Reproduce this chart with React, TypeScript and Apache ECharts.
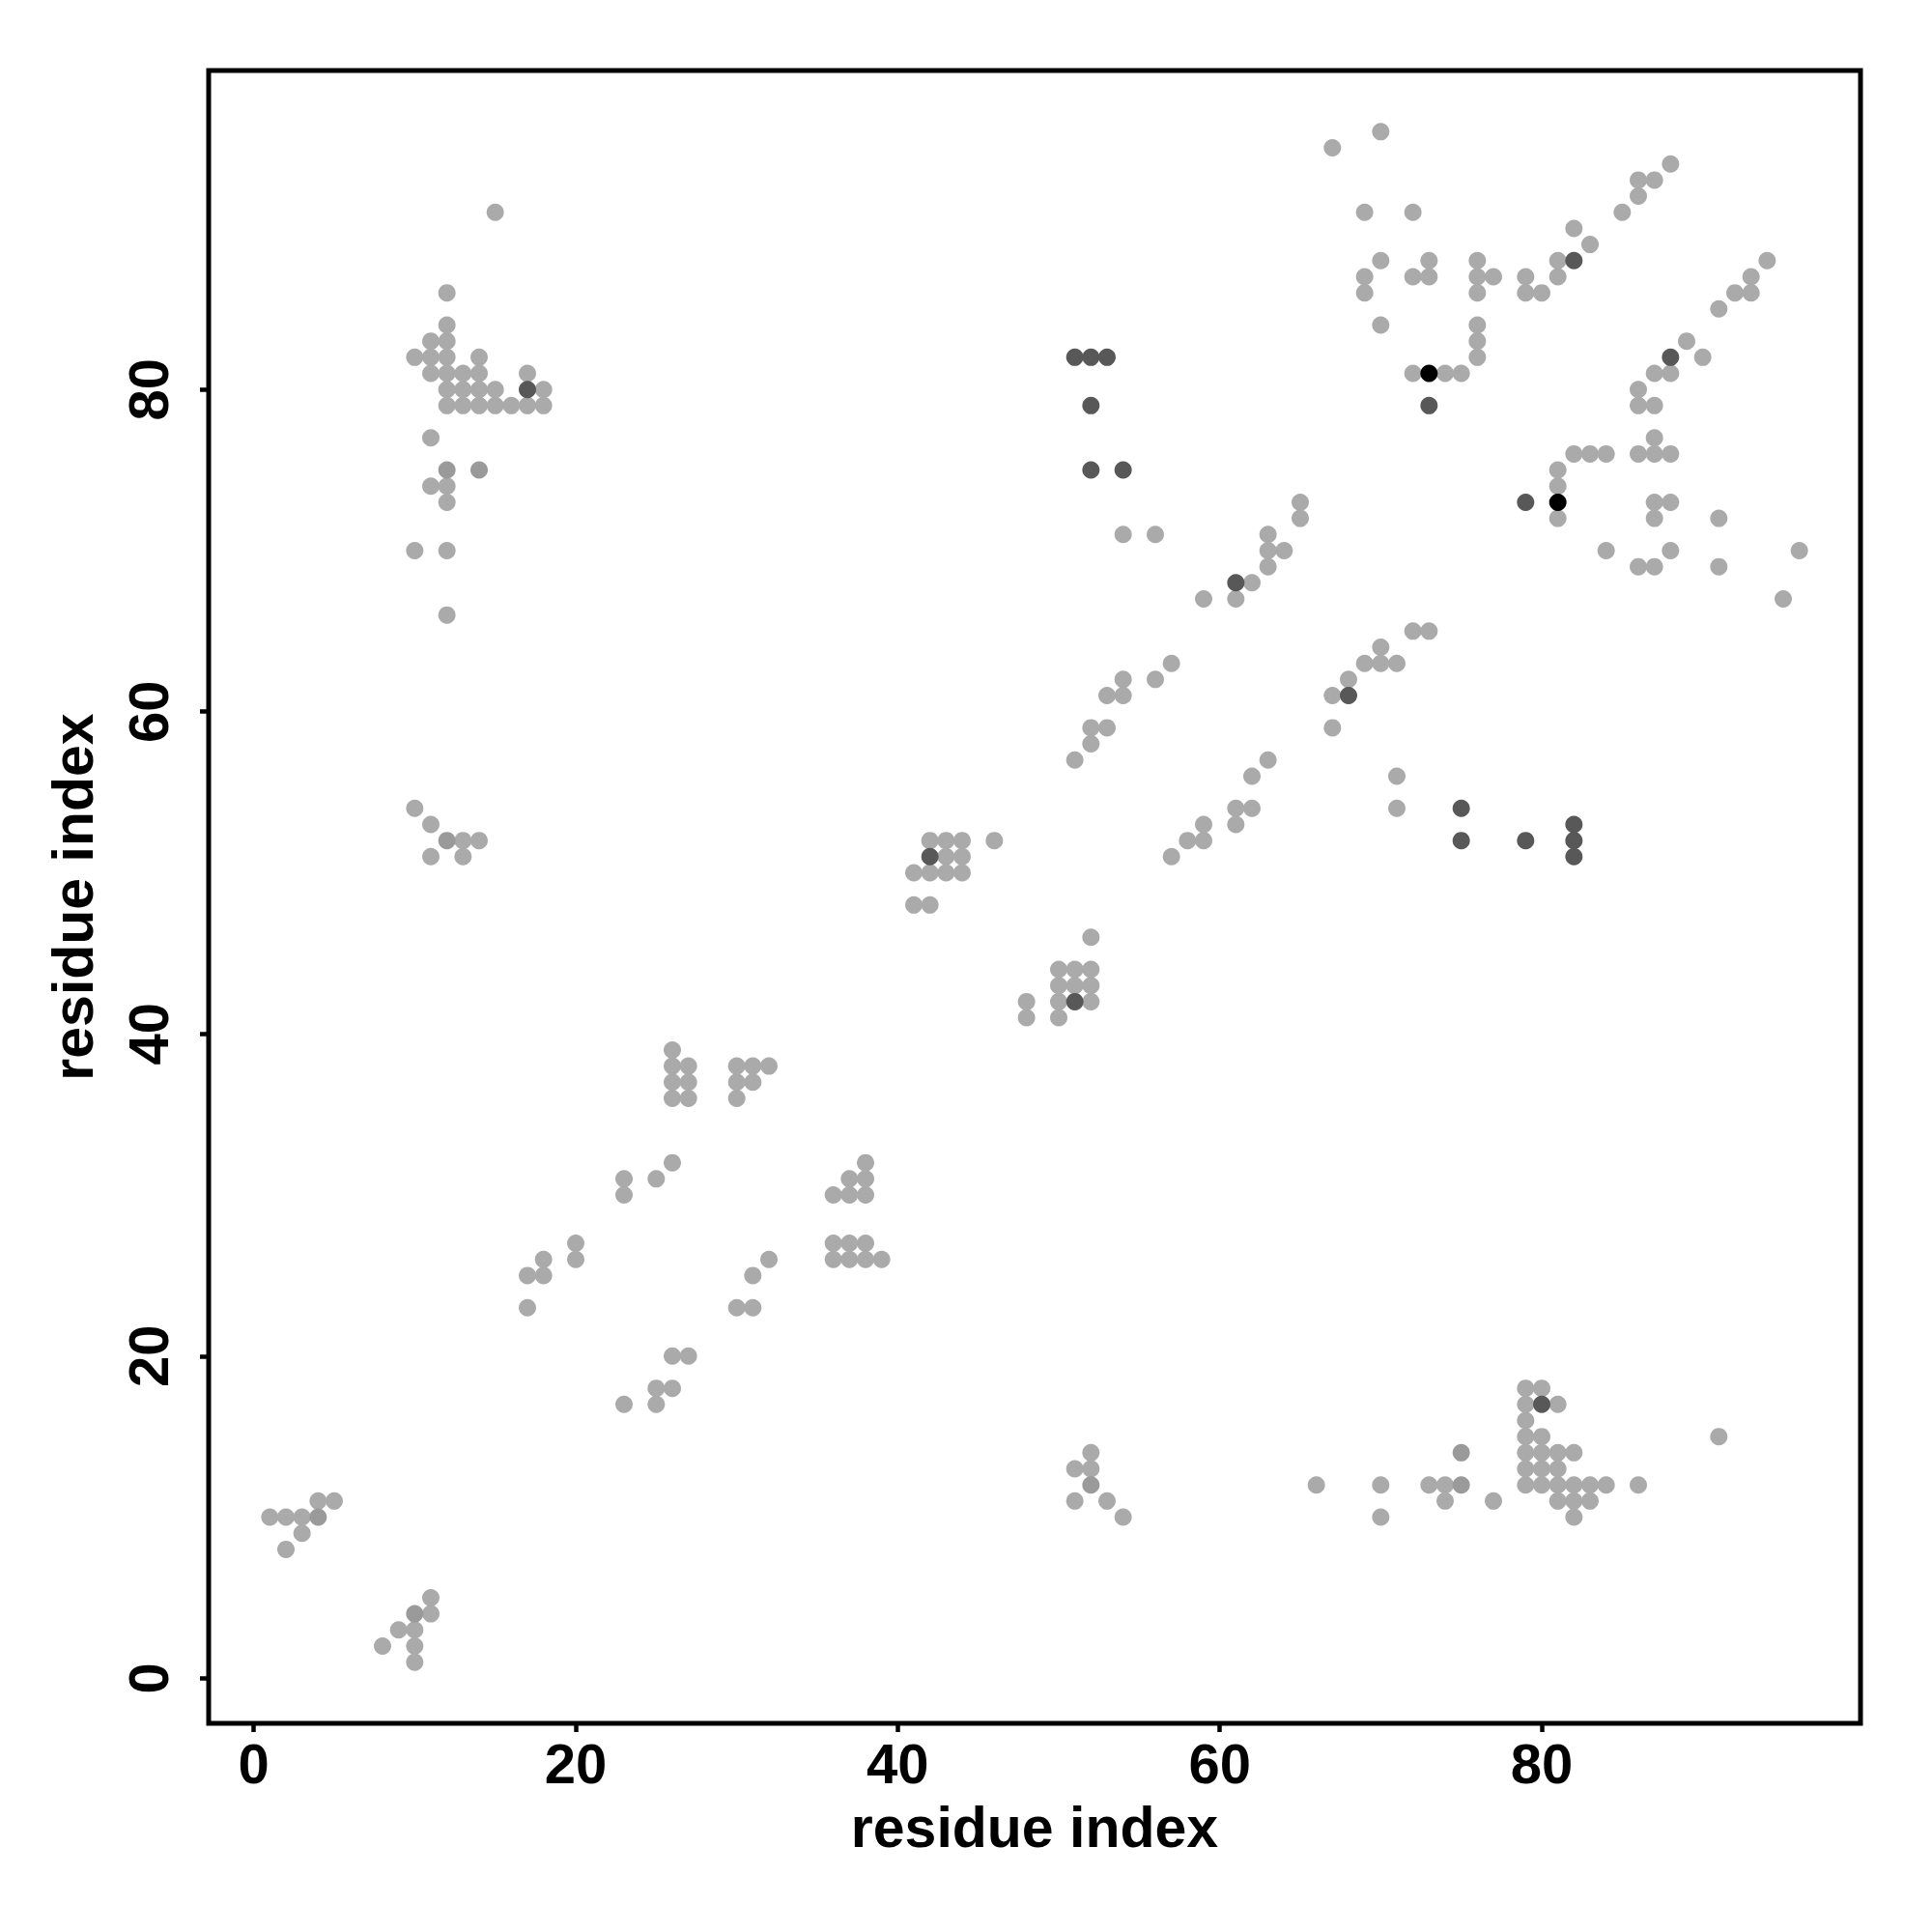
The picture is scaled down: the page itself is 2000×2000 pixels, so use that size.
import React, { useEffect, useRef } from "react";
import * as echarts from "echarts";

// contact pairs [residue i, residue j]
const lightContacts: number[][] = [
  // upper-left cluster
  [15, 91], [12, 86], [12, 84], [11, 83], [12, 83], [10, 82], [11, 82], [12, 82], [14, 82],
  [11, 81], [12, 81], [13, 81], [14, 81], [17, 81], [12, 80], [13, 80], [14, 80], [15, 80], [18, 80],
  [12, 79], [13, 79], [14, 79], [15, 79], [16, 79], [17, 79], [18, 79], [11, 77], [11, 74], [12, 74],
  [12, 73], [10, 70], [12, 70], [12, 66],
  [10, 54], [11, 53], [13, 52], [14, 52], [11, 51], [13, 51],
  // bottom-left
  [1, 10], [2, 10], [3, 10], [4, 11], [5, 11], [3, 9], [2, 8], [11, 5], [11, 4], [9, 3], [10, 3],
  [8, 2], [10, 2], [10, 1],
  // 17-39 region
  [26, 39], [26, 38], [27, 38], [30, 38], [31, 38], [32, 38], [26, 37], [27, 37], [30, 37], [31, 37],
  [26, 36], [27, 36], [30, 36], [26, 32], [38, 32], [23, 31], [25, 31], [37, 31], [38, 31], [23, 30],
  [36, 30], [37, 30], [38, 30], [20, 27], [36, 27], [37, 27], [38, 27], [18, 26], [20, 26], [32, 26],
  [36, 26], [37, 26], [38, 26], [39, 26], [17, 25], [18, 25], [31, 25], [17, 23], [30, 23], [31, 23],
  [26, 20], [27, 20], [25, 18], [26, 18], [23, 17], [25, 17],
  // 41-52 region
  [42, 52], [43, 52], [44, 52], [46, 52], [43, 51], [44, 51], [41, 50], [42, 50], [43, 50], [44, 50],
  [41, 48], [42, 48], [52, 46], [50, 44], [51, 44], [52, 44], [50, 43], [51, 43], [52, 43], [48, 42],
  [50, 42], [52, 42], [48, 41], [50, 41],
  // middle diagonal
  [54, 71], [56, 71], [65, 73], [65, 72], [63, 71], [63, 70], [64, 70], [63, 69], [62, 68], [59, 67],
  [61, 67], [57, 63], [56, 62], [54, 62], [53, 61], [54, 61], [52, 59], [53, 59], [52, 58], [51, 57],
  [63, 57], [62, 56], [57, 51], [58, 52], [59, 52], [59, 53], [61, 53], [61, 54], [62, 54], [67, 59],
  [71, 56], [71, 54],
  // upper-right
  [67, 95], [70, 96], [69, 91], [72, 91], [88, 94], [86, 93], [87, 93], [86, 92], [85, 91], [82, 90],
  [83, 89], [70, 88], [73, 88], [76, 88], [81, 88], [94, 88], [69, 87], [72, 87], [73, 87], [76, 87],
  [77, 87], [79, 87], [81, 87], [93, 87], [69, 86], [76, 86], [79, 86], [80, 86], [92, 86], [93, 86],
  [91, 85], [70, 84], [76, 84], [76, 83], [89, 83], [76, 82], [90, 82], [72, 81], [74, 81], [75, 81],
  [87, 81], [88, 81], [86, 80], [86, 79], [87, 79], [87, 77], [82, 76], [83, 76], [84, 76], [86, 76],
  [87, 76], [88, 76], [81, 75], [81, 74], [87, 73], [88, 73], [81, 72], [87, 72], [91, 72], [84, 70],
  [88, 70], [96, 70], [86, 69], [87, 69], [91, 69], [95, 67], [72, 65], [73, 65], [70, 64], [69, 63],
  [70, 63], [71, 63], [68, 62], [67, 61],
  // bottom-right
  [52, 14], [51, 13], [52, 13], [51, 11], [53, 11], [54, 10], [66, 12], [70, 12], [70, 10], [73, 12],
  [74, 12], [74, 11], [77, 11], [79, 18], [79, 17], [79, 16], [79, 15], [79, 14], [79, 13], [79, 12],
  [80, 18], [80, 15], [80, 14], [80, 13], [80, 12], [81, 17], [81, 14], [81, 13], [81, 12], [81, 11],
  [82, 14], [82, 12], [82, 11], [82, 10], [83, 12], [83, 11], [84, 12], [86, 12], [91, 15],
];

const midContacts: number[][] = [
  [12, 75], [14, 75], [75, 12], [75, 14], [4, 10], [10, 4], [12, 52], [52, 12],
];

const darkContacts: number[][] = [
  [17, 80], [80, 17], [73, 79], [79, 73], [82, 88], [88, 82], [61, 68], [68, 61], [42, 51], [51, 42],
  [52, 75], [54, 75], [75, 52], [75, 54], [52, 79], [79, 52], [51, 82], [52, 82], [53, 82],
  [82, 51], [82, 52], [82, 53],
];

const blackContacts: number[][] = [
  [73, 81], [81, 73],
];

const tickValues = [0, 20, 40, 60, 80];
const axisTitle = "residue index";

const FONT = "'Liberation Sans', Arial, Helvetica, sans-serif";

export default function App() {
  const ref = useRef<HTMLDivElement>(null);

  useEffect(() => {
    if (!ref.current) return;
    const chart = echarts.init(ref.current, undefined, { renderer: "svg" });

    const axisCommon = {
      type: "value" as const,
      min: -2.8,
      max: 99.8,
      name: axisTitle,
      nameLocation: "middle" as const,
      nameTextStyle: { fontFamily: FONT, fontWeight: "bold" as const, fontSize: 59, color: "#000" },
      axisLine: { show: false, onZero: false },
      splitLine: { show: false },
      axisTick: {
        show: true,
        customValues: tickValues,
        length: 9,
        lineStyle: { color: "#000", width: 4.5 },
      },
      axisLabel: {
        show: true,
        customValues: tickValues,
        fontFamily: FONT,
        fontWeight: "bold" as const,
        fontSize: 58,
        color: "#000",
      },
    };

    const mk = (data: number[][], color: string, z: number) => ({
      type: "scatter" as const,
      data,
      symbol: "circle",
      symbolSize: 18,
      itemStyle: { color, opacity: 1 },
      z,
      silent: true,
    });

    chart.setOption({
      animation: false,
      backgroundColor: "#ffffff",
      grid: {
        left: 216,
        right: 74,
        top: 73,
        bottom: 216,
        show: true,
        borderColor: "#000",
        borderWidth: 5,
        backgroundColor: "transparent",
      },
      xAxis: {
        ...axisCommon,
        nameGap: 78,
        axisLabel: { ...axisCommon.axisLabel, margin: 12 },
      },
      yAxis: {
        ...axisCommon,
        nameGap: 111,
        nameRotate: 90,
        axisLabel: { ...axisCommon.axisLabel, margin: 34, rotate: 90 },
      },
      series: [
        mk(lightContacts, "#aaaaaa", 2),
        mk(midContacts, "#9a9a9a", 3),
        mk(darkContacts, "#585858", 4),
        mk(blackContacts, "#000000", 5),
      ],
    });

    return () => chart.dispose();
  }, []);

  return (
    <div
      ref={ref}
      style={{ position: "absolute", left: 0, top: 0, width: 2000, height: 2000, background: "#fff" }}
    />
  );
}
